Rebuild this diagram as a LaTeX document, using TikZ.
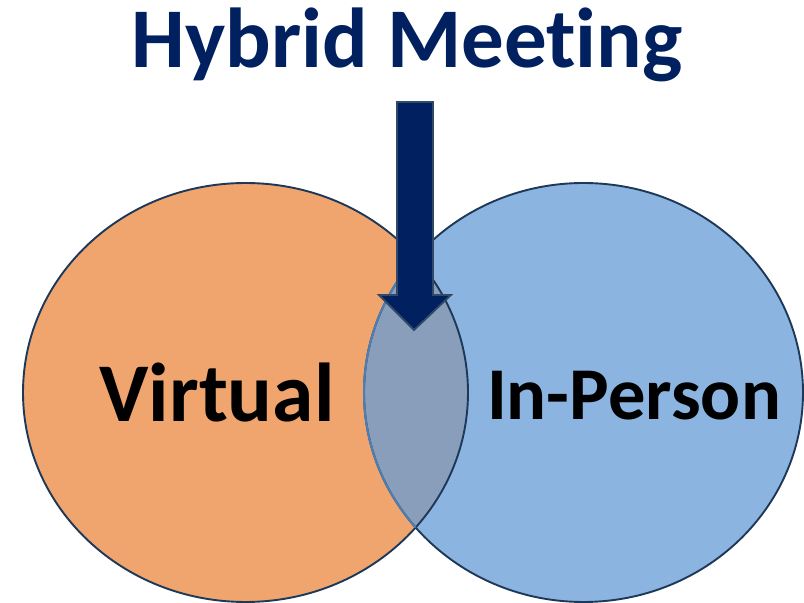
\documentclass[tikz,border=0pt]{standalone}
\usepackage{fontspec}
\setmainfont[Ligatures=NoCommon]{Carlito}
\definecolor{orangefill}{RGB}{240,164,110}
\definecolor{bluefill}{RGB}{139,180,224}
\definecolor{overlapfill}{RGB}{136,158,186}
\definecolor{edgedark}{RGB}{30,56,88}
\definecolor{edgeblue}{RGB}{78,126,178}
\definecolor{navy}{RGB}{0,32,96}
\definecolor{arrowedge}{RGB}{50,74,104}
\begin{document}
\begin{tikzpicture}[x=1pt,y=1pt,
  lbl/.style={font=\bfseries, anchor=base, inner sep=0pt},
  ring/.style={draw=edgedark, line width=1.9pt}]
\useasboundingbox (0,0) rectangle (804,603);
\fill[white] (0,0) rectangle (804,603);
% circles
\fill[orangefill] (245.5,210.5) ellipse [x radius=222.5, y radius=209.5];
\fill[bluefill] (583.5,210.5) ellipse [x radius=219.5, y radius=209.5];
\begin{scope}
  \clip (245.5,210.5) ellipse [x radius=222.5, y radius=209.5];
  \fill[overlapfill] (583.5,210.5) ellipse [x radius=219.5, y radius=209.5];
\end{scope}
\draw[ring] (245.5,210.5) ellipse [x radius=222.5, y radius=209.5];
\begin{scope}
  \clip (0,0) rectangle (804,603);
  \draw[ring] (583.5,210.5) ellipse [x radius=219.5, y radius=209.5];
\end{scope}
\begin{scope}
  \clip (245.5,210.5) ellipse [x radius=222.5, y radius=209.5];
  \draw[draw=edgeblue, line width=2pt] (583.5,210.5) ellipse [x radius=219.5, y radius=209.5];
\end{scope}
% arrow
\draw[fill=navy, draw=arrowedge, line width=1.8pt, line join=miter]
  (397,501) -- (433,501) -- (433,308) -- (451,308) -- (414,273)
  -- (379,308) -- (397,308) -- cycle;
% labels
\node[lbl, text=navy, font=\bfseries\fontsize{85}{95}\selectfont] (title) at (407,535) {Hybrid Meeting};
\node[lbl, font=\bfseries\fontsize{83.5}{95}\selectfont] (virtual) at (217,181) {Virtual};
\node[lbl, font=\bfseries\fontsize{74.5}{90}\selectfont] (inperson) at (634,183) {In-Person};
\end{tikzpicture}
\end{document}
